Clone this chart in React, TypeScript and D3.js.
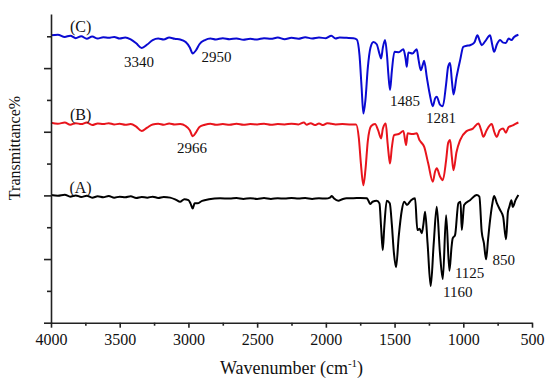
import * as d3 from 'd3';
import React, { useEffect, useRef } from 'react';

// wavenumber (cm-1), transmittance (offset, arbitrary units)
const seriesA: number[][] = [
  [4000, 40.1], [3950, 39.9], [3900, 40.2], [3860, 39.6], [3820, 40.0], [3780, 39.5],
  [3740, 39.9], [3700, 39.3], [3660, 39.7], [3620, 39.4], [3580, 39.8], [3540, 39.3],
  [3500, 39.6], [3460, 39.4], [3420, 39.7], [3380, 39.2], [3340, 39.5], [3300, 39.3],
  [3260, 39.6], [3220, 39.2], [3180, 39.5], [3133, 39.3], [3090, 38.6], [3061, 38.0],
  [3030, 38.8], [3000, 38.5], [2985, 37.5], [2969, 35.9], [2955, 37.5], [2935, 37.5],
  [2900, 38.3], [2850, 38.8], [2770, 39.1], [2700, 39.0], [2650, 39.2], [2600, 38.9],
  [2550, 39.1], [2500, 38.9], [2450, 39.2], [2400, 38.9], [2350, 39.1], [2300, 39.0],
  [2250, 39.2], [2200, 39.0], [2150, 39.2], [2100, 38.9], [2050, 39.1], [2000, 39.0],
  [1970, 39.3], [1957, 39.8], [1940, 39.0], [1909, 38.3], [1880, 38.8], [1850, 39.1],
  [1800, 39.1], [1750, 39.2], [1702, 39.1], [1690, 38.3], [1678, 37.3], [1660, 38.0],
  [1630, 38.3], [1610, 37.5], [1598, 30], [1586, 22.8], [1575, 30], [1557, 38.3],
  [1535, 37.5], [1520, 31], [1505, 22], [1489, 17.4], [1470, 27], [1447, 35.4],
  [1430, 38.0], [1410, 37.0], [1380, 38.5], [1351, 39.1], [1334, 29.1], [1318, 29.5],
  [1302, 28.1], [1290, 31], [1278, 34.9], [1260, 25], [1237, 11.5], [1215, 25],
  [1193, 36.4], [1170, 22], [1149, 13.7], [1125, 33.8], [1101, 16.3], [1085, 24],
  [1077, 26.5], [1060, 27.5], [1036, 37.5], [1020, 38.0], [1011, 29.1], [994, 37.0],
  [951, 38.5], [902, 40.1], [883, 39.6], [866, 28.6], [850, 25], [834, 19.9],
  [820, 26], [805, 32.2], [790, 37], [776, 39.8], [755, 37.5], [732, 35.4],
  [710, 33.3], [689, 26.2], [675, 34.9], [665, 36.4], [650, 38.5], [640, 36.4],
  [620, 38.5], [599, 40.1],
];

const seriesB: number[][] = [
  [4000, 62.8], [3950, 62.5], [3900, 62.9], [3860, 62.2], [3820, 62.7], [3780, 62.4],
  [3740, 62.9], [3700, 62.1], [3660, 62.6], [3620, 62.4], [3580, 62.7], [3540, 62.3],
  [3500, 62.5], [3460, 62.2], [3420, 62.4], [3380, 61.6], [3340, 60.2], [3300, 61.3],
  [3260, 62.3], [3220, 62.5], [3180, 62.2], [3140, 62.6], [3100, 62.3], [3060, 62.4],
  [3020, 61.8], [2990, 60.5], [2969, 58.6], [2945, 59.8], [2920, 61.5], [2880, 62.2],
  [2840, 62.5], [2800, 62.2], [2750, 62.4], [2700, 62.2], [2650, 62.5], [2600, 62.2],
  [2550, 62.4], [2500, 62.3], [2450, 62.5], [2400, 62.2], [2350, 62.4], [2300, 62.3],
  [2250, 62.5], [2200, 62.3], [2160, 62.9], [2140, 62.2], [2110, 62.7], [2080, 62.1],
  [2050, 62.6], [2020, 62.1], [1990, 62.7], [1960, 62.5], [1930, 62.3], [1880, 62.4],
  [1830, 62.3], [1780, 62.3], [1760, 58], [1745, 50], [1727, 43.2], [1712, 48],
  [1695, 57], [1670, 61.8], [1642, 62.4], [1620, 60.5], [1598, 57.9], [1585, 61],
  [1564, 62.6], [1552, 57], [1543, 53], [1533, 50.0], [1520, 55], [1504, 58.9],
  [1470, 59.3], [1436, 60.2], [1416, 55.8], [1405, 59.5], [1370, 59.3], [1339, 59.5],
  [1320, 57.5], [1309, 56.8], [1285, 55.3], [1255, 50], [1222, 44.3], [1205, 47.5],
  [1193, 48.5], [1170, 46], [1149, 44.8], [1125, 51], [1110, 56.5], [1096, 57.4],
  [1083, 52], [1071, 47.9], [1050, 53.5], [1023, 57.4], [976, 60.2], [930, 61.0],
  [890, 62.6], [870, 60.5], [854, 58.4], [830, 60.5], [793, 62.4], [775, 60],
  [756, 58.4], [735, 60.5], [710, 61.0], [690, 59.7], [670, 61.5], [640, 62.0],
  [620, 62.5], [599, 62.9],
];

const seriesC: number[][] = [
  [4000, 90.3], [3950, 90.5], [3900, 89.8], [3860, 90.2], [3820, 89.4], [3780, 90.0],
  [3740, 89.2], [3700, 89.9], [3660, 89.3], [3620, 89.7], [3580, 89.5], [3540, 89.8],
  [3500, 89.3], [3460, 89.6], [3420, 89.0], [3380, 87.8], [3340, 86.3], [3300, 87.4],
  [3260, 88.8], [3220, 89.3], [3180, 89.0], [3140, 89.6], [3100, 89.2], [3060, 89.0],
  [3020, 88.2], [2990, 86.5], [2969, 84.6], [2945, 85.6], [2920, 87.5], [2880, 88.8],
  [2840, 89.3], [2800, 89.0], [2750, 89.4], [2700, 89.1], [2650, 89.3], [2600, 88.9],
  [2550, 89.2], [2500, 89.0], [2450, 89.4], [2400, 89.2], [2350, 89.6], [2300, 89.1],
  [2250, 89.5], [2200, 89.2], [2150, 89.7], [2100, 89.3], [2050, 89.6], [2000, 89.4],
  [1960, 90.2], [1930, 89.3], [1900, 89.6], [1850, 89.5], [1800, 89.4], [1775, 89.0],
  [1755, 84.0], [1740, 74], [1727, 65.7], [1712, 70], [1695, 80], [1675, 86.5],
  [1654, 88.2], [1630, 87.5], [1610, 84.5], [1598, 83.0], [1585, 86.5], [1569, 88.8],
  [1555, 84], [1545, 78], [1533, 73.1], [1520, 79], [1501, 85.1], [1470, 85.0],
  [1436, 85.9], [1420, 83], [1411, 80.4], [1400, 84.9], [1370, 84.6], [1339, 85.9],
  [1325, 82.5], [1309, 79.3], [1295, 81], [1285, 82.3], [1265, 77], [1245, 72],
  [1222, 68.0], [1205, 70.5], [1193, 71.0], [1170, 68.5], [1149, 68.0], [1125, 75],
  [1110, 80.5], [1096, 81.6], [1083, 76], [1071, 71.7], [1050, 77], [1023, 82.5],
  [1000, 86.7], [975, 87.0], [951, 87.2], [920, 88.0], [897, 90.3], [880, 88.5],
  [866, 87.2], [840, 88.5], [805, 90.3], [790, 87.5], [776, 85.1], [755, 87.5],
  [732, 88.8], [710, 88.0], [690, 87.9], [670, 89.3], [650, 88.8], [630, 89.8],
  [599, 90.5],
];

const seriesNames = ['(A)', '(B)', '(C)'];
const seriesColors = ['#000000', '#e8141c', '#0a0ad2'];
const nameWave = [3785, 3785, 3785];
const nameVal = [40.9, 63.6, 91.3];

// peak annotations: label text, anchor wavenumber and value
const peakLabels = ['3340', '2950', '2966', '1485', '1281', '1125', '1160', '850'];
const peakWave = [3360, 2796, 2974, 1424, 1163, 954, 1040, 705];
const peakVal = [80.3, 81.9, 53.3, 68.0, 62.7, 14.0, 8.1, 18.2];

const xMajorTicks = [4000, 3500, 3000, 2500, 2000, 1500, 1000, 500];
const xMinorTicks = [3750, 3250, 2750, 2250, 1750, 1250, 750];
const yMajorTicks = [0, 20, 40, 60, 80];
const yMinorTicks = [10, 30, 50, 70, 90];

const font = '"Liberation Serif", "Times New Roman", serif';

const App = () => {
  const svgRef = useRef(null);
  const width = 550;
  const height = 381;

  useEffect(() => {
    const svg = d3.select(svgRef.current);
    svg.selectAll('*').remove();

    const x = d3.scaleLinear().domain([4000, 500]).range([51, 532]);
    const y = d3.scaleLinear().domain([0, 97]).range([322.7, 14]);

    const line = d3
      .line<number[]>()
      .x((d) => x(d[0]))
      .y((d) => y(d[1]))
      .curve(d3.curveMonotoneX);

    [seriesA, seriesB, seriesC].forEach((s, i) => {
      svg
        .append('path')
        .datum(s)
        .attr('d', line)
        .style('fill', 'none')
        .style('stroke', seriesColors[i])
        .style('stroke-width', 2)
        .style('stroke-linejoin', 'round');
    });

    // axes
    const axisColor = '#222';
    const xAxisMinor = svg
      .append('g')
      .attr('transform', 'translate(0,' + y(0) + ')')
      .call(d3.axisBottom(x).tickValues(xMinorTicks).tickSize(3).tickSizeOuter(0).tickFormat(() => ''));
    xAxisMinor.select('.domain').remove();

    const xAxis = svg
      .append('g')
      .attr('transform', 'translate(0,' + y(0) + ')')
      .call(d3.axisBottom(x).tickValues(xMajorTicks).tickSize(5).tickSizeOuter(0).tickPadding(6).tickFormat(d3.format('d')));
    xAxis.selectAll('text').style('font-family', font).style('font-size', '16px').style('fill', '#111');

    const yAxisMinor = svg
      .append('g')
      .attr('transform', 'translate(' + x(4000) + ',0)')
      .call(d3.axisLeft(y).tickValues(yMinorTicks).tickSize(4).tickSizeOuter(0).tickFormat(() => ''));
    yAxisMinor.select('.domain').remove();

    svg
      .append('g')
      .attr('transform', 'translate(' + x(4000) + ',0)')
      .call(d3.axisLeft(y).tickValues(yMajorTicks).tickSize(7).tickSizeOuter(0).tickFormat(() => ''));

    svg.selectAll('.domain').style('stroke', axisColor).style('stroke-width', 1.6);
    svg.selectAll('.tick line').style('stroke', axisColor).style('stroke-width', 1.6);

    // series names
    seriesNames.forEach((n, i) => {
      svg
        .append('text')
        .attr('x', x(nameWave[i]))
        .attr('y', y(nameVal[i]))
        .attr('text-anchor', 'middle')
        .style('font-family', font)
        .style('font-size', '16px')
        .style('fill', '#111')
        .text(n);
    });

    // peak labels
    peakLabels.forEach((t, i) => {
      svg
        .append('text')
        .attr('x', x(peakWave[i]))
        .attr('y', y(peakVal[i]))
        .attr('text-anchor', 'middle')
        .style('font-family', font)
        .style('font-size', '15px')
        .style('fill', '#111')
        .text(t);
    });

    // axis titles
    const title = svg
      .append('text')
      .attr('x', (x(4000) + x(500)) / 2)
      .attr('y', 374)
      .attr('text-anchor', 'middle')
      .style('font-family', font)
      .style('font-size', '18px')
      .style('fill', '#111');
    title.append('tspan').text('Wavenumber (cm');
    title.append('tspan').attr('dy', -7).style('font-size', '11px').text('-1');
    title.append('tspan').attr('dy', 7).text(')');

    svg
      .append('text')
      .attr('transform', 'translate(20,148) rotate(-90)')
      .attr('text-anchor', 'middle')
      .style('font-family', font)
      .style('font-size', '16px')
      .style('fill', '#111')
      .text('Transmittance%');
  }, []);

  return (
    <svg
      ref={svgRef}
      width={width}
      height={height}
      style={{ position: 'absolute', left: 0, top: 0, background: '#fff' }}
    />
  );
};

export default App;
